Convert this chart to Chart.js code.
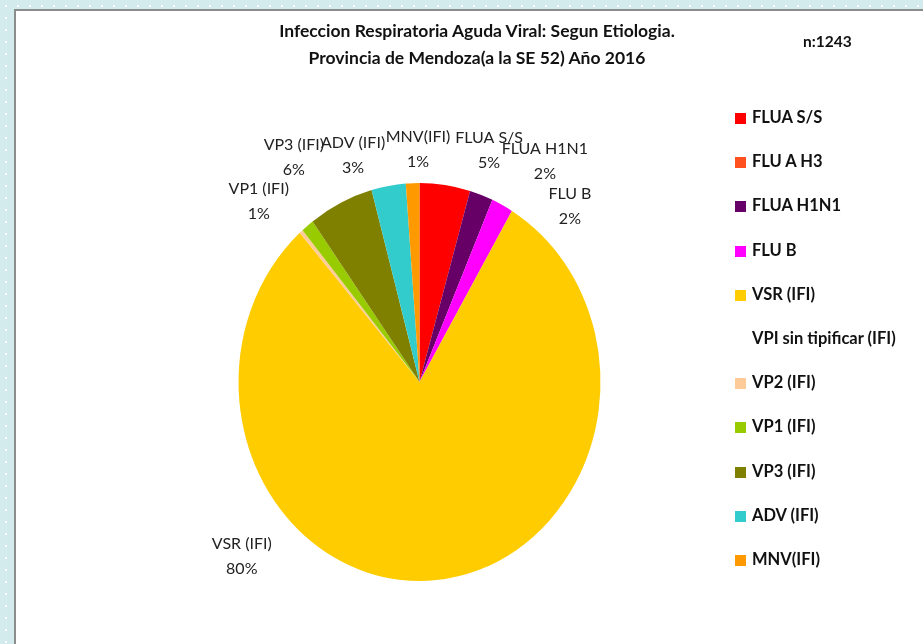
<!DOCTYPE html>
<html>
<head>
<meta charset="utf-8">
<script src="https://cdn.jsdelivr.net/npm/chart.js@4.4.1/dist/chart.umd.min.js"></script>
<style>
  html, body { margin: 0; padding: 0; }
  body {
    width: 923px; height: 644px; overflow: hidden; position: relative;
    background-color: #d4ebed;
    background-image: radial-gradient(circle, #ffffff 1px, transparent 1.5px);
    background-size: 12px 12px;
    font-family: Lato, "Open Sans", sans-serif;
  }
  #panel {
    position: absolute; left: 14px; top: 9px; width: 940px; height: 660px;
    background: #fff; border-left: 2px solid #8c8c8c; border-top: 2px solid #8c8c8c;
  }
  #chart { position: absolute; left: 0; top: 0; }
  .title {
    position: absolute; left: 257px; width: 440px; text-align: center;
    font-weight: bold; font-size: 17.5px; color: #111; line-height: 27px; top: 17px;
  }
  .count { position: absolute; left: 803px; top: 32px; font-weight: bold; font-size: 15.5px; color: #111; }
  #legend { position: absolute; left: 735px; top: 0; }
  .item { position: absolute; left: 0; white-space: nowrap; font-weight: bold; font-size: 16.5px; color: #111; height: 20px; line-height: 20px; }
  .item span.box { display: inline-block; width: 11px; height: 11px; margin-right: 6px; vertical-align: -1px; }
</style>
</head>
<body>
<div id="panel"></div>
<canvas id="chart" width="923" height="644"></canvas>
<div class="title">Infeccion Respiratoria Aguda Viral: Segun Etiologia.<br>Provincia de Mendoza(a la SE 52) Año 2016</div>
<div class="count">n:1243</div>
<div id="legend"></div>
<script>
// data
var categories = ['FLUA S/S', 'FLU A H3', 'FLUA H1N1', 'FLU B', 'VSR (IFI)', 'VPI sin tipificar (IFI)', 'VP2 (IFI)', 'VP1 (IFI)', 'VP3 (IFI)', 'ADV (IFI)', 'MNV(IFI)'];
var casos = [56, 0, 26, 24, 994, 0, 4, 14, 72, 38, 15];
var colores = ['#ff0000', '#ff5020', '#660066', '#ff00ff', '#ffcc00', 'rgba(0,0,0,0)', '#ffcc99', '#99cc00', '#808000', '#33cccc', '#ff9900'];

// label placement (angle shift in degrees, distance from centre in px), like excel's best fit
var labelShift = [8.6, 0, 9.6, 13.4, 50.9, 0, 0, -3.4, -3.5, -6.5, 1.8];
var labelDist = [242, 240, 254, 231, 249, 240, 240, 242, 257, 236, 233];

var total = casos.reduce(function (a, b) { return a + b; }, 0);
var stretchY = 1.0994;

// legend
var legend = document.getElementById('legend');
for (var i = 0; i < categories.length; i++) {
    var div = document.createElement('div');
    div.className = 'item';
    div.style.top = (107 + i * 44.2) + 'px';
    div.innerHTML = '<span class="box" style="background:' + colores[i] + '"></span>' + categories[i];
    legend.appendChild(div);
}

// pie is a bit taller than wide in the original
var ellipsePlugin = {
    id: 'ellipse',
    beforeDatasetsDraw: function (chart) {
        var arc = chart.getDatasetMeta(0).data[0];
        var ctx = chart.ctx;
        ctx.save();
        ctx.translate(arc.x, arc.y);
        ctx.scale(1, stretchY);
        ctx.translate(-arc.x, -arc.y);
    },
    afterDatasetsDraw: function (chart) {
        chart.ctx.restore();
    }
};

var outerLabels = {
    id: 'outerLabels',
    afterDraw: function (chart) {
        var ctx = chart.ctx;
        var meta = chart.getDatasetMeta(0);
        ctx.save();
        ctx.font = '16px Lato, "Open Sans", sans-serif';
        ctx.fillStyle = '#222';
        ctx.textAlign = 'center';
        ctx.textBaseline = 'middle';
        meta.data.forEach(function (arc, i) {
            var pct = Math.round(casos[i] / total * 100);
            if (pct === 0) return;
            var mid = (arc.startAngle + arc.endAngle) / 2 + labelShift[i] * Math.PI / 180;
            var x = arc.x + labelDist[i] * Math.cos(mid);
            var y = arc.y + labelDist[i] * Math.sin(mid);
            ctx.fillText(categories[i], x, y - 12.5);
            ctx.fillText(pct + '%', x, y + 12.5);
        });
        ctx.restore();
    }
};

var ctx = document.getElementById('chart').getContext('2d');
var myChart = new Chart(ctx, {
    type: 'pie',
    data: {
        labels: categories,
        datasets: [{
            data: casos,
            backgroundColor: colores,
            borderWidth: 0
        }]
    },
    options: {
        responsive: false,
        animation: false,
        radius: 181,
        layout: { padding: { left: 219, right: 303, top: 182, bottom: 62 } },
        plugins: {
            legend: { display: false },
            title: { display: false },
            tooltip: { enabled: false }
        }
    },
    plugins: [ellipsePlugin, outerLabels]
});
</script>
</body>
</html>
